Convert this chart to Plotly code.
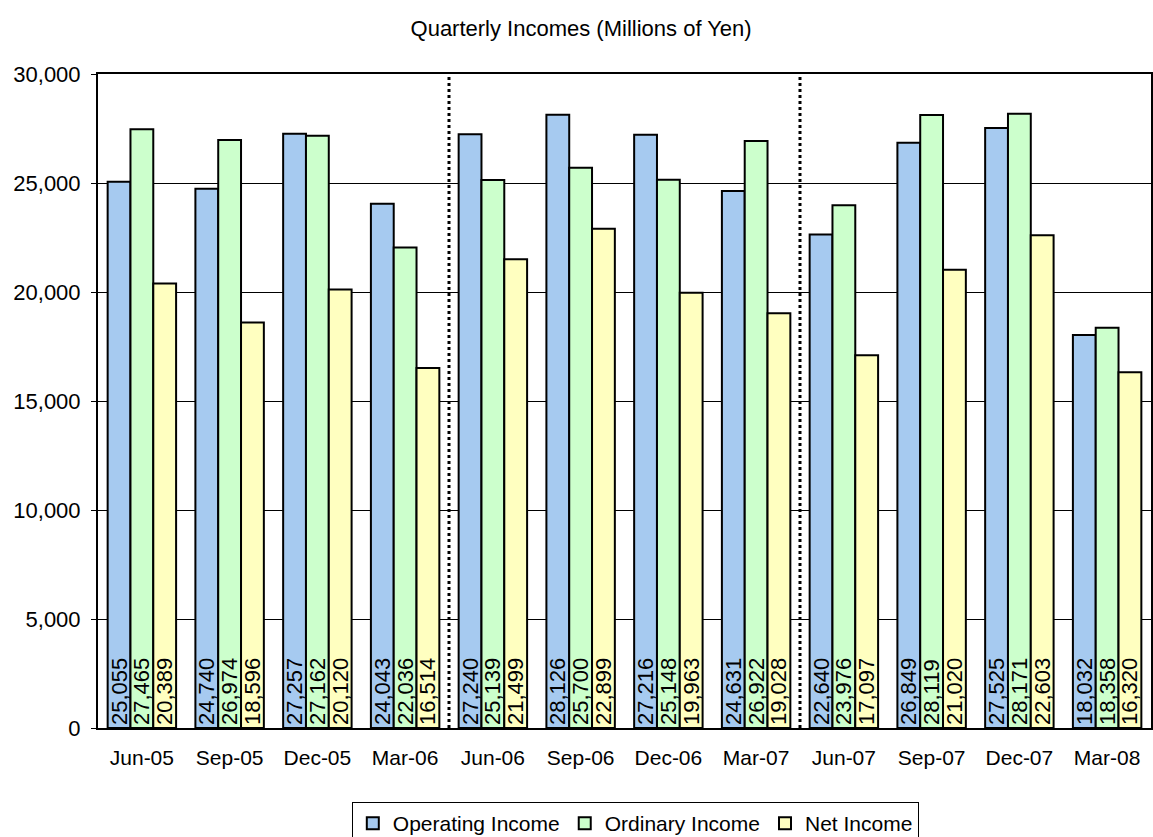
import plotly.graph_objects as go

quarters = ["Jun-05", "Sep-05", "Dec-05", "Mar-06", "Jun-06", "Sep-06",
            "Dec-06", "Mar-07", "Jun-07", "Sep-07", "Dec-07", "Mar-08"]
operating_income = [25055, 24740, 27257, 24043, 27240, 28126,
                    27216, 24631, 22640, 26849, 27525, 18032]
ordinary_income = [27465, 26974, 27162, 22036, 25139, 25700,
                   25148, 26922, 23976, 28119, 28171, 18358]
net_income = [20389, 18596, 20120, 16514, 21499, 22899,
              19963, 19028, 17097, 21020, 22603, 16320]
year_dividers = [3.5, 7.5]

FONT = "Liberation Sans, Arial, sans-serif"
series = [
    ("Operating Income", operating_income, "#A6CAF0"),
    ("Ordinary Income", ordinary_income, "#CCFFCC"),
    ("Net Income", net_income, "#FFFFC0"),
]

fig = go.Figure()
for name, vals, col in series:
    fig.add_trace(go.Bar(
        name=name, x=quarters, y=vals,
        marker=dict(color=col, line=dict(color="black", width=2)),
        text=[f"{v:,}" for v in vals],
        textposition="inside", insidetextanchor="start", textangle=-90,
        textfont=dict(family=FONT, size=22, color="black"),
        cliponaxis=False,
    ))

shapes = []
for xd in year_dividers:
    shapes.append(dict(type="line", xref="x", yref="paper", x0=xd, x1=xd,
                       y0=0, y1=1, line=dict(color="black", width=3, dash="dot")))

fig.update_layout(
    width=1153, height=837,
    margin=dict(l=98, r=0, t=74, b=109),
    paper_bgcolor="white", plot_bgcolor="white",
    barmode="group", bargap=0.22, bargroupgap=0,
    font=dict(family=FONT, color="black"),
    title=dict(text="Quarterly Incomes (Millions of Yen)", x=0.504, xanchor="center",
               y=1 - 28 / 837, yanchor="middle", font=dict(size=22, family=FONT)),
    uniformtext=dict(minsize=22, mode="show"),
    shapes=shapes,
    showlegend=True,
    legend=dict(orientation="h", xref="container", yref="container",
                x=0.551, xanchor="center", y=(837 - 802) / 837, yanchor="top",
                bordercolor="black", borderwidth=1,
                font=dict(size=21, family=FONT), itemwidth=30,
                tracegroupgap=0, traceorder="normal"),
    xaxis=dict(showline=True, linecolor="black", linewidth=2, mirror=True,
               ticks="", tickfont=dict(size=21, family=FONT),
               ticklabelstandoff=10, showgrid=False),
    yaxis=dict(range=[0, 30000], tickvals=[0, 5000, 10000, 15000, 20000, 25000, 30000],
               tickformat=",", showline=True, linecolor="black", linewidth=2, mirror=True,
               ticks="outside", ticklen=5, tickcolor="black",
               tickfont=dict(size=22, family=FONT), ticklabelstandoff=6,
               showgrid=True, gridcolor="black", gridwidth=1, zeroline=False),
)

fig.write_html("out.html")
